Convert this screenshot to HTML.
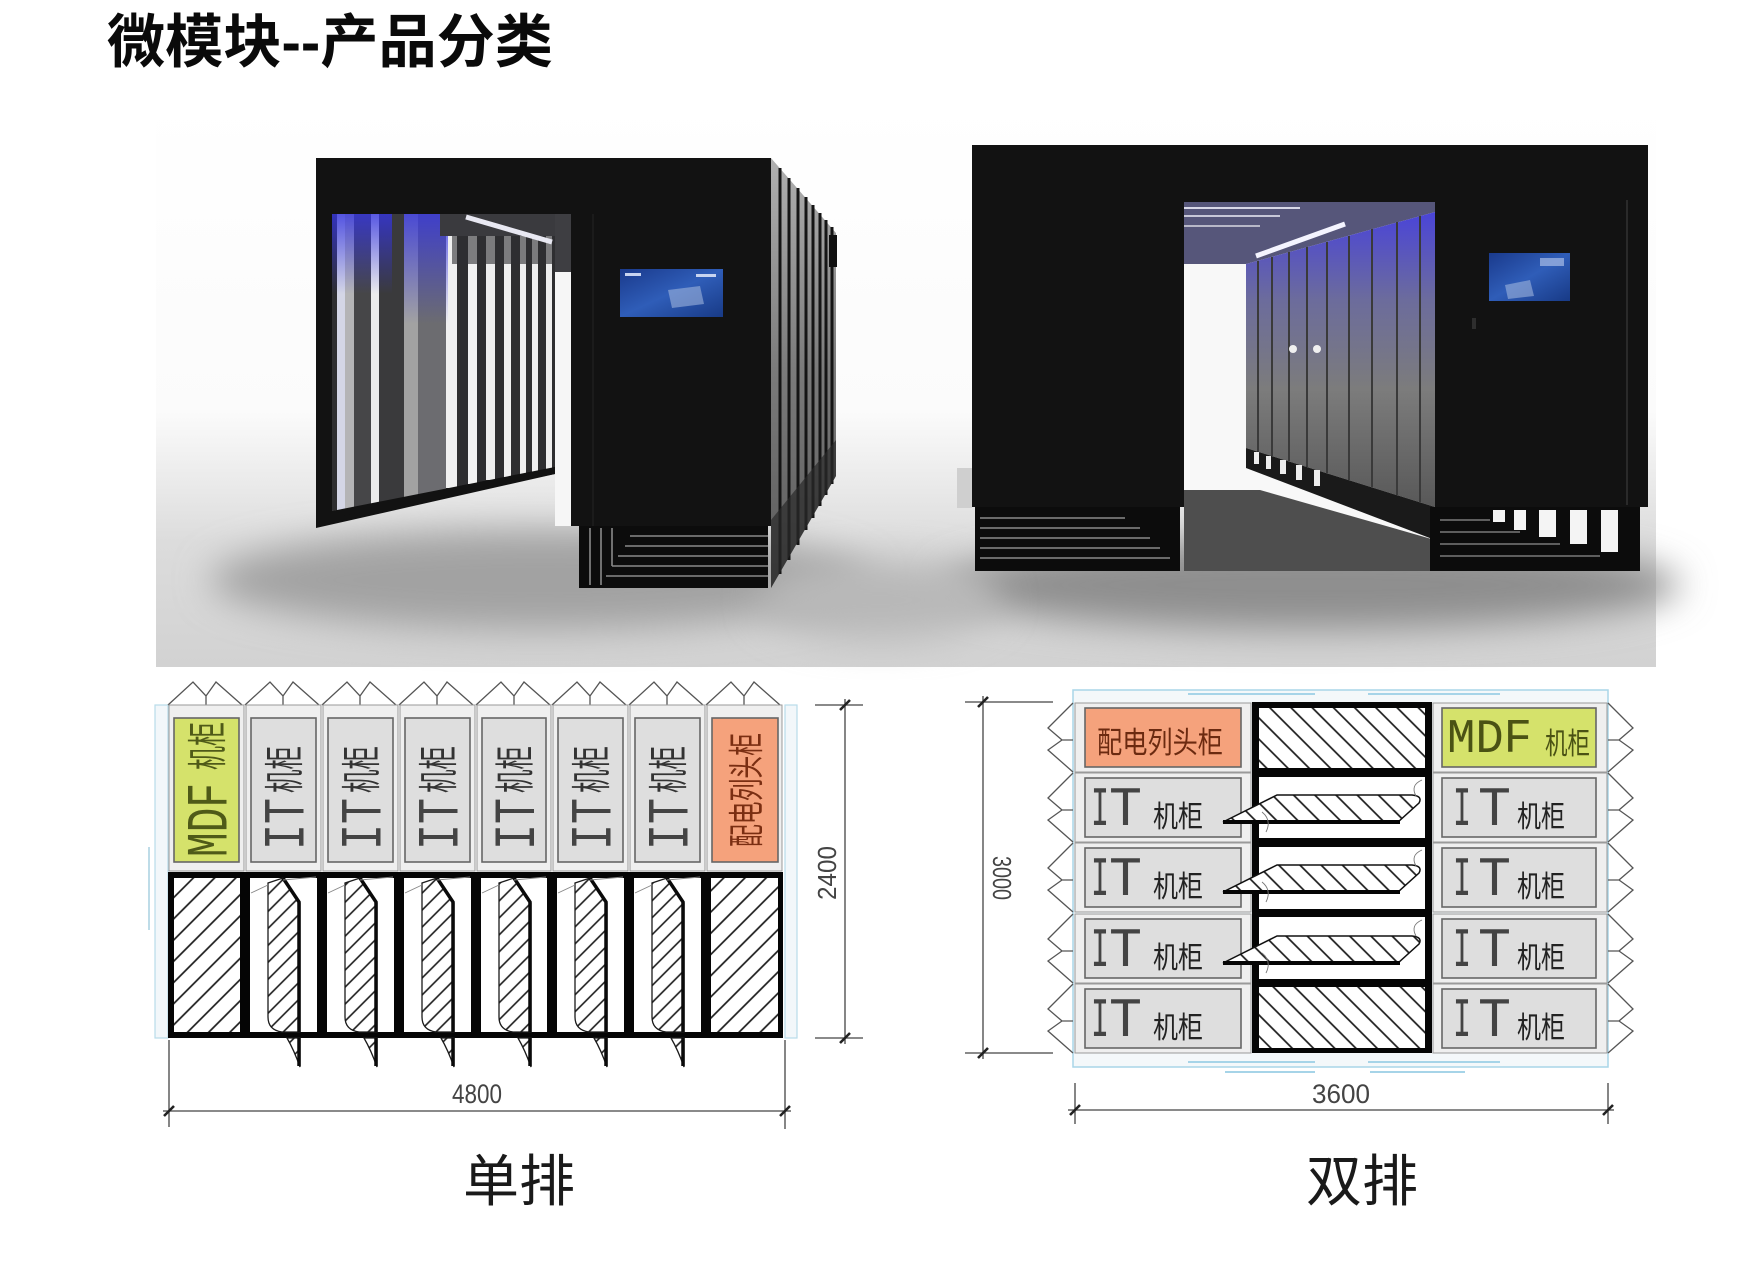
<!DOCTYPE html>
<html><head><meta charset="utf-8">
<style>
html,body{margin:0;padding:0;background:#fff;width:1746px;height:1280px;overflow:hidden}
svg{display:block}
.cjk{font-family:"Liberation Sans","Noto Sans CJK SC",sans-serif}
.mono{font-family:"Liberation Mono",monospace}
</style></head>
<body>
<svg width="1746" height="1280" viewBox="0 0 1746 1280" xmlns="http://www.w3.org/2000/svg">
<defs>
  <linearGradient id="floor" x1="0" y1="0" x2="0" y2="1">
    <stop offset="0" stop-color="#ffffff"/>
    <stop offset="0.55" stop-color="#fbfbfb"/>
    <stop offset="0.78" stop-color="#dcdcdc"/>
    <stop offset="1" stop-color="#d2d2d2"/>
  </linearGradient>
  <filter id="blur" x="-20%" y="-50%" width="140%" height="200%"><feGaussianBlur stdDeviation="18"/></filter>
  <linearGradient id="blueGlow" x1="0" y1="0" x2="0" y2="1">
    <stop offset="0" stop-color="#3434e0" stop-opacity="0.8"/>
    <stop offset="1" stop-color="#3434e0" stop-opacity="0"/>
  </linearGradient>
  <linearGradient id="screen" x1="0" y1="0" x2="1" y2="1">
    <stop offset="0" stop-color="#1a3a8c"/>
    <stop offset="0.5" stop-color="#2f5db8"/>
    <stop offset="1" stop-color="#183a86"/>
  </linearGradient>
  <linearGradient id="cabs" x1="0" y1="0" x2="0" y2="1">
    <stop offset="0" stop-color="#4a44d8"/>
    <stop offset="0.3" stop-color="#6c6c9c"/>
    <stop offset="0.6" stop-color="#7c7c7c"/>
    <stop offset="1" stop-color="#585858"/>
  </linearGradient>
  <linearGradient id="side" x1="0" y1="0" x2="0" y2="1">
    <stop offset="0" stop-color="#b0b0b0"/>
    <stop offset="0.5" stop-color="#7a7a7a"/>
    <stop offset="1" stop-color="#5a5a5a"/>
  </linearGradient>
  <pattern id="hA" patternUnits="userSpaceOnUse" width="15" height="15" patternTransform="rotate(45)">
    <rect width="15" height="15" fill="#fff"/>
    <line x1="7.5" y1="0" x2="7.5" y2="15" stroke="#1a1a1a" stroke-width="1.7"/>
  </pattern>
  <pattern id="hD" patternUnits="userSpaceOnUse" width="12" height="12" patternTransform="rotate(45)">
    <rect width="12" height="12" fill="#fff"/>
    <line x1="6" y1="0" x2="6" y2="12" stroke="#1a1a1a" stroke-width="1.6"/>
  </pattern>
  <pattern id="hB" patternUnits="userSpaceOnUse" width="15" height="15" patternTransform="rotate(-45)">
    <rect width="15" height="15" fill="#fff"/>
    <line x1="7.5" y1="0" x2="7.5" y2="15" stroke="#1a1a1a" stroke-width="1.7"/>
  </pattern>
</defs>

<!-- Title -->
<text x="107" y="62" class="cjk" font-size="58" font-weight="bold" fill="#0a0a0a" textLength="446" lengthAdjust="spacingAndGlyphs">微模块--产品分类</text>

<!-- ================= RENDER BACKGROUND ================= -->
<rect x="156" y="100" width="1500" height="567" fill="url(#floor)"/>
<ellipse cx="540" cy="580" rx="330" ry="50" fill="#a2a2a2" filter="url(#blur)"/>
<ellipse cx="1310" cy="585" rx="370" ry="45" fill="#8e8e8e" filter="url(#blur)"/>
<ellipse cx="880" cy="600" rx="120" ry="40" fill="#b8b8b8" filter="url(#blur)"/>

<!-- ================= LEFT RENDER ================= -->
<polygon points="771,158 836,233 836,476 771,588" fill="url(#side)"/>
<g stroke="#151515" stroke-width="3">
  <line x1="780" y1="168" x2="780" y2="574"/>
  <line x1="789" y1="178" x2="789" y2="560"/>
  <line x1="798" y1="188" x2="798" y2="545"/>
  <line x1="806" y1="197" x2="806" y2="530"/>
  <line x1="813" y1="205" x2="813" y2="518"/>
  <line x1="820" y1="213" x2="820" y2="506"/>
  <line x1="826" y1="220" x2="826" y2="495"/>
  <line x1="832" y1="227" x2="832" y2="484"/>
</g>
<polygon points="771,520 836,440 836,476 771,588" fill="#2a2a2a" opacity="0.7"/>
<rect x="829" y="235" width="8" height="32" fill="#111"/>

<rect x="316" y="158" width="455" height="56" fill="#121212"/>
<rect x="571" y="158" width="200" height="368" fill="#121212"/>
<polygon points="316,158 332,158 332,511 555,466 555,474 316,528" fill="#121212"/>
<polygon points="332,214 555,214 555,467 332,511" fill="#2e2e30"/>
<g>
  <rect x="337" y="214" width="8" height="297" fill="#d4d6e6"/>
  <rect x="345" y="214" width="9" height="296" fill="#b4b4b6"/>
  <rect x="354" y="214" width="17" height="293" fill="#464648"/>
  <rect x="371" y="214" width="8" height="292" fill="#ececec"/>
  <rect x="379" y="214" width="25" height="288" fill="#3a3a3c"/>
  <rect x="404" y="214" width="14" height="285" fill="#a2a2a2"/>
  <rect x="418" y="214" width="28" height="280" fill="#6c6c70"/>
  <rect x="446" y="214" width="11" height="274" fill="#f0f0f0"/>
  <rect x="468" y="214" width="9" height="270" fill="#f2f2f2"/>
  <rect x="486" y="214" width="9" height="266" fill="#eeeeee"/>
  <rect x="504" y="214" width="7" height="263" fill="#f0f0f0"/>
  <rect x="520" y="214" width="6" height="260" fill="#eeeeee"/>
  <rect x="532" y="214" width="6" height="258" fill="#eeeeee"/>
  <rect x="546" y="214" width="6" height="256" fill="#eeeeee"/>
</g>
<polygon points="332,511 555,467 555,474 332,518" fill="#121212"/>
<rect x="332" y="214" width="60" height="80" fill="url(#blueGlow)"/>
<rect x="404" y="214" width="44" height="110" fill="url(#blueGlow)"/>
<rect x="440" y="214" width="131" height="22" fill="#3a3a3e"/>
<rect x="452" y="236" width="119" height="28" fill="#2e2e32" opacity="0.6"/>
<line x1="466" y1="217" x2="552" y2="242" stroke="#e8e8f2" stroke-width="5"/>
<rect x="555" y="214" width="16" height="58" fill="#3e3e42"/>
<rect x="555" y="272" width="16" height="254" fill="#f6f6f6"/>
<line x1="593" y1="214" x2="593" y2="526" stroke="#1e1e1e" stroke-width="1.5"/>
<rect x="620" y="269" width="103" height="48" fill="url(#screen)"/>
<rect x="625" y="273" width="16" height="3" fill="#c8d4f0"/>
<rect x="696" y="274" width="20" height="3" fill="#c8d4f0"/>
<polygon points="668,290 700,286 704,304 672,308" fill="#9fb4dc" opacity="0.6"/>
<rect x="579" y="526" width="189" height="62" fill="#0c0c0c"/>
<g stroke="#8a8a8a" stroke-width="1.6">
  <line x1="630" y1="536" x2="768" y2="536"/>
  <line x1="625" y1="546" x2="768" y2="546"/>
  <line x1="618" y1="556" x2="768" y2="556"/>
  <line x1="612" y1="566" x2="768" y2="566"/>
  <line x1="606" y1="576" x2="768" y2="576"/>
  <line x1="590" y1="528" x2="590" y2="585"/>
  <line x1="601" y1="528" x2="601" y2="585"/>
  <line x1="612" y1="528" x2="612" y2="566"/>
</g>

<!-- ================= RIGHT RENDER ================= -->
<rect x="957" y="468" width="15" height="40" fill="#cfcfcf"/>
<rect x="1184" y="202" width="251" height="369" fill="#f8f8f8"/>
<polygon points="1184,490 1260,490 1435,540 1435,571 1184,571" fill="#4e4e4e"/>
<polygon points="1184,202 1435,202 1435,212 1246,264 1184,264" fill="#56567a"/>
<line x1="1184" y1="208" x2="1300" y2="208" stroke="#d8d8e8" stroke-width="2"/>
<line x1="1184" y1="216" x2="1280" y2="216" stroke="#c8c8d8" stroke-width="2"/>
<line x1="1184" y1="226" x2="1260" y2="226" stroke="#b8b8c8" stroke-width="2"/>
<line x1="1256" y1="256" x2="1345" y2="224" stroke="#f4f4ff" stroke-width="5"/>
<polygon points="1246,264 1435,212 1435,507 1246,448" fill="url(#cabs)"/>
<g stroke="#3a3a3a" stroke-width="2">
  <line x1="1258" y1="261" x2="1258" y2="452"/>
  <line x1="1272" y1="257" x2="1272" y2="456"/>
  <line x1="1289" y1="252" x2="1289" y2="461"/>
  <line x1="1307" y1="247" x2="1307" y2="467"/>
  <line x1="1327" y1="242" x2="1327" y2="473"/>
  <line x1="1349" y1="236" x2="1349" y2="480"/>
  <line x1="1372" y1="229" x2="1372" y2="487"/>
  <line x1="1397" y1="222" x2="1397" y2="495"/>
  <line x1="1420" y1="216" x2="1420" y2="502"/>
</g>
<circle cx="1293" cy="349" r="4" fill="#f0f0f0"/>
<circle cx="1317" cy="349" r="4" fill="#f0f0f0"/>
<polygon points="1246,448 1435,507 1435,540 1246,468" fill="#1a1a1a"/>
<g fill="#eeeeee">
  <rect x="1254" y="452" width="5" height="12"/>
  <rect x="1266" y="456" width="5" height="13"/>
  <rect x="1280" y="460" width="6" height="14"/>
  <rect x="1296" y="465" width="6" height="15"/>
  <rect x="1314" y="470" width="6" height="16"/>
</g>
<rect x="972" y="145" width="676" height="57" fill="#121212"/>
<rect x="972" y="145" width="212" height="362" fill="#121212"/>
<rect x="1435" y="145" width="213" height="362" fill="#121212"/>
<line x1="1627" y1="200" x2="1627" y2="505" stroke="#333" stroke-width="1.5"/>
<rect x="1472" y="318" width="4" height="11" fill="#2e2e2e"/>
<rect x="1489" y="253" width="81" height="48" fill="url(#screen)"/>
<rect x="1540" y="258" width="24" height="8" fill="#a8bce6" opacity="0.7"/>
<polygon points="1505,285 1530,280 1534,296 1508,299" fill="#9fb4dc" opacity="0.6"/>
<rect x="975" y="507" width="205" height="64" fill="#0c0c0c"/>
<g stroke="#8a8a8a" stroke-width="1.6">
  <line x1="980" y1="518" x2="1125" y2="518"/>
  <line x1="980" y1="528" x2="1140" y2="528"/>
  <line x1="980" y1="538" x2="1150" y2="538"/>
  <line x1="980" y1="548" x2="1160" y2="548"/>
  <line x1="980" y1="558" x2="1170" y2="558"/>
</g>
<rect x="1430" y="507" width="210" height="64" fill="#0c0c0c"/>
<g stroke="#7a7a7a" stroke-width="1.6">
  <line x1="1440" y1="520" x2="1490" y2="520"/>
  <line x1="1440" y1="532" x2="1520" y2="532"/>
  <line x1="1440" y1="544" x2="1560" y2="544"/>
  <line x1="1440" y1="556" x2="1600" y2="556"/>
</g>
<g fill="#f4f4f4">
  <rect x="1493" y="510" width="12" height="12"/>
  <rect x="1514" y="510" width="12" height="20"/>
  <rect x="1539" y="510" width="17" height="27"/>
  <rect x="1570" y="510" width="17" height="34"/>
  <rect x="1601" y="510" width="17" height="42"/>
</g>

<!-- ================= SINGLE ROW DIAGRAM ================= -->
<rect x="155" y="705" width="13" height="333" fill="#f2f7fa" stroke="#b8dcea" stroke-width="1.2"/>
<line x1="149" y1="847" x2="149" y2="930" stroke="#a8d0e0" stroke-width="1.5"/>
<rect x="785" y="705" width="12" height="333" fill="#f2f7fa" stroke="#b8dcea" stroke-width="1.2"/>
<g fill="none" stroke="#555" stroke-width="1.3">
  <path d="M168,705 L193,682 L206,696 L216,682 L242,705 M206,696 L206,705"/>
  <path d="M245,705 L270,682 L283,696 L293,682 L319,705 M283,696 L283,705"/>
  <path d="M322,705 L347,682 L360,696 L370,682 L396,705 M360,696 L360,705"/>
  <path d="M399,705 L424,682 L437,696 L447,682 L473,705 M437,696 L437,705"/>
  <path d="M476,705 L501,682 L514,696 L524,682 L550,705 M514,696 L514,705"/>
  <path d="M552,705 L577,682 L590,696 L600,682 L626,705 M590,696 L590,705"/>
  <path d="M629,705 L654,682 L667,696 L677,682 L703,705 M667,696 L667,705"/>
  <path d="M706,705 L731,682 L744,696 L754,682 L780,705 M744,696 L744,705"/>
</g>
<g stroke="#9a9a9a" stroke-width="1" fill="#efefef">
  <rect x="169" y="705" width="75" height="166"/>
  <rect x="246" y="705" width="75" height="166"/>
  <rect x="323" y="705" width="75" height="166"/>
  <rect x="400" y="705" width="75" height="166"/>
  <rect x="477" y="705" width="74" height="166"/>
  <rect x="553" y="705" width="75" height="166"/>
  <rect x="630" y="705" width="75" height="166"/>
  <rect x="707" y="705" width="75" height="166"/>
</g>
<g stroke="#666" stroke-width="1.6">
  <rect x="174" y="718" width="65" height="144" fill="#d5e26b"/>
  <rect x="251" y="718" width="65" height="144" fill="#dedede"/>
  <rect x="328" y="718" width="65" height="144" fill="#dedede"/>
  <rect x="405" y="718" width="65" height="144" fill="#dedede"/>
  <rect x="482" y="718" width="64" height="144" fill="#dedede"/>
  <rect x="558" y="718" width="65" height="144" fill="#dedede"/>
  <rect x="635" y="718" width="65" height="144" fill="#dedede"/>
  <rect x="712" y="718" width="66" height="144" fill="#f5a27c"/>
</g>
<g transform="translate(206.5,857) rotate(-90)">
  <text x="0" y="20" class="mono" font-size="58" fill="#4f5a18" textLength="74" lengthAdjust="spacingAndGlyphs">MDF</text>
  <text x="87" y="15" class="cjk" font-size="40" fill="#4f5a18" textLength="48" lengthAdjust="spacingAndGlyphs">机柜</text>
</g>
<g transform="translate(283.5,850) rotate(-90)">
  <text x="0" y="20" class="mono" font-size="58" fill="#444" textLength="52" lengthAdjust="spacingAndGlyphs">IT</text>
  <text x="57" y="15" class="cjk" font-size="40" fill="#333" textLength="47" lengthAdjust="spacingAndGlyphs">机柜</text>
</g>
<g transform="translate(360.5,850) rotate(-90)">
  <text x="0" y="20" class="mono" font-size="58" fill="#444" textLength="52" lengthAdjust="spacingAndGlyphs">IT</text>
  <text x="57" y="15" class="cjk" font-size="40" fill="#333" textLength="47" lengthAdjust="spacingAndGlyphs">机柜</text>
</g>
<g transform="translate(437.5,850) rotate(-90)">
  <text x="0" y="20" class="mono" font-size="58" fill="#444" textLength="52" lengthAdjust="spacingAndGlyphs">IT</text>
  <text x="57" y="15" class="cjk" font-size="40" fill="#333" textLength="47" lengthAdjust="spacingAndGlyphs">机柜</text>
</g>
<g transform="translate(514,850) rotate(-90)">
  <text x="0" y="20" class="mono" font-size="58" fill="#444" textLength="52" lengthAdjust="spacingAndGlyphs">IT</text>
  <text x="57" y="15" class="cjk" font-size="40" fill="#333" textLength="47" lengthAdjust="spacingAndGlyphs">机柜</text>
</g>
<g transform="translate(590.5,850) rotate(-90)">
  <text x="0" y="20" class="mono" font-size="58" fill="#444" textLength="52" lengthAdjust="spacingAndGlyphs">IT</text>
  <text x="57" y="15" class="cjk" font-size="40" fill="#333" textLength="47" lengthAdjust="spacingAndGlyphs">机柜</text>
</g>
<g transform="translate(667.5,850) rotate(-90)">
  <text x="0" y="20" class="mono" font-size="58" fill="#444" textLength="52" lengthAdjust="spacingAndGlyphs">IT</text>
  <text x="57" y="15" class="cjk" font-size="40" fill="#333" textLength="47" lengthAdjust="spacingAndGlyphs">机柜</text>
</g>
<g transform="translate(745,847) rotate(-90)">
  <text x="0" y="14" class="cjk" font-size="36" fill="#7a2e12" textLength="114" lengthAdjust="spacingAndGlyphs">配电列头柜</text>
</g>

<rect x="168" y="872" width="615" height="166" fill="#050505"/>
<rect x="174" y="878" width="66" height="154" fill="url(#hA)"/>
<rect x="250" y="878" width="67" height="154" fill="#fff"/>
<rect x="327" y="878" width="67" height="154" fill="#fff"/>
<rect x="404" y="878" width="67" height="154" fill="#fff"/>
<rect x="481" y="878" width="66" height="154" fill="#fff"/>
<rect x="557" y="878" width="67" height="154" fill="#fff"/>
<rect x="634" y="878" width="67" height="154" fill="#fff"/>
<rect x="711" y="878" width="67" height="154" fill="url(#hA)"/>
<g fill="url(#hD)" stroke="#1a1a1a" stroke-width="1.3">
  <path d="M268,883 L283,878 L300,903 L300,1032 L282,1032 Q268,1030 268,1017 Z"/>
  <path d="M345,883 L360,878 L377,903 L377,1032 L359,1032 Q345,1030 345,1017 Z"/>
  <path d="M422,883 L437,878 L454,903 L454,1032 L436,1032 Q422,1030 422,1017 Z"/>
  <path d="M499,883 L514,878 L531,903 L531,1032 L513,1032 Q499,1030 499,1017 Z"/>
  <path d="M575,883 L590,878 L607,903 L607,1032 L589,1032 Q575,1030 575,1017 Z"/>
  <path d="M652,883 L667,878 L684,903 L684,1032 L666,1032 Q652,1030 652,1017 Z"/>
  <path d="M287,1038 L300,1038 L300,1067 Q294,1050 287,1038 Z"/>
  <path d="M364,1038 L377,1038 L377,1067 Q371,1050 364,1038 Z"/>
  <path d="M441,1038 L454,1038 L454,1067 Q448,1050 441,1038 Z"/>
  <path d="M518,1038 L531,1038 L531,1067 Q525,1050 518,1038 Z"/>
  <path d="M594,1038 L607,1038 L607,1067 Q601,1050 594,1038 Z"/>
  <path d="M671,1038 L684,1038 L684,1067 Q678,1050 671,1038 Z"/>
</g>
<g stroke="#0a0a0a" stroke-width="3.5" fill="none">
  <path d="M283,878 L299,902 L299,1032 M299,1038 L299,1066"/>
  <path d="M360,878 L376,902 L376,1032 M376,1038 L376,1066"/>
  <path d="M437,878 L453,902 L453,1032 M453,1038 L453,1066"/>
  <path d="M514,878 L530,902 L530,1032 M530,1038 L530,1066"/>
  <path d="M590,878 L606,902 L606,1032 M606,1038 L606,1066"/>
  <path d="M667,878 L683,902 L683,1032 M683,1038 L683,1066"/>
</g>
<g stroke="#888" stroke-width="0.9" fill="none">
  <path d="M251,893 L268,885 M283,880 L316,877"/>
  <path d="M328,893 L345,885 M360,880 L393,877"/>
  <path d="M405,893 L422,885 M437,880 L470,877"/>
  <path d="M482,893 L499,885 M514,880 L546,877"/>
  <path d="M558,893 L575,885 M590,880 L623,877"/>
  <path d="M635,893 L652,885 M667,880 L700,877"/>
</g>

<g stroke="#444" stroke-width="1.3" fill="none">
  <line x1="845" y1="699" x2="845" y2="1044"/>
  <line x1="815" y1="705" x2="863" y2="705"/>
  <line x1="815" y1="1038" x2="863" y2="1038"/>
  <line x1="163" y1="1111" x2="791" y2="1111"/>
  <line x1="169" y1="1040" x2="169" y2="1127"/>
  <line x1="785" y1="1040" x2="785" y2="1129"/>
</g>
<g stroke="#222" stroke-width="2.6">
  <line x1="840" y1="710" x2="850" y2="700"/>
  <line x1="840" y1="1043" x2="850" y2="1033"/>
  <line x1="164" y1="1116" x2="174" y2="1106"/>
  <line x1="780" y1="1116" x2="790" y2="1106"/>
</g>
<g transform="translate(827,873) rotate(-90)">
  <text x="0" y="9" text-anchor="middle" font-family="Liberation Sans, sans-serif" font-size="26" fill="#444" textLength="54" lengthAdjust="spacingAndGlyphs">2400</text>
</g>
<text x="477" y="1103" text-anchor="middle" font-family="Liberation Sans, sans-serif" font-size="27" fill="#444" textLength="50" lengthAdjust="spacingAndGlyphs">4800</text>
<text x="519" y="1201" text-anchor="middle" class="cjk" font-size="56" fill="#1a1a1a">单排</text>

<!-- ================= DOUBLE ROW DIAGRAM ================= -->
<rect x="1073" y="690" width="535" height="377" fill="#f4f8fa" stroke="#a9d6e8" stroke-width="1.5"/>
<g stroke="#a6d4e8" stroke-width="2">
  <line x1="1188" y1="694" x2="1315" y2="694"/>
  <line x1="1368" y1="694" x2="1500" y2="694"/>
  <line x1="1188" y1="1062" x2="1315" y2="1062"/>
  <line x1="1368" y1="1062" x2="1500" y2="1062"/>
  <line x1="1225" y1="1072" x2="1315" y2="1072"/>
  <line x1="1370" y1="1072" x2="1465" y2="1072"/>
</g>
<g fill="none" stroke="#555" stroke-width="1.3">
  <path d="M1073,703 L1048,728 L1062,740 L1048,750 L1073,772 M1062,740 L1073,740"/>
  <path d="M1073,773 L1048,798 L1062,810 L1048,820 L1073,842 M1062,810 L1073,810"/>
  <path d="M1073,843 L1048,868 L1062,880 L1048,890 L1073,912 M1062,880 L1073,880"/>
  <path d="M1073,914 L1048,939 L1062,951 L1048,961 L1073,983 M1062,951 L1073,951"/>
  <path d="M1073,984 L1048,1009 L1062,1021 L1048,1031 L1073,1053 M1062,1021 L1073,1021"/>
  <path d="M1608,703 L1633,728 L1619,740 L1633,750 L1608,772 M1619,740 L1608,740"/>
  <path d="M1608,773 L1633,798 L1619,810 L1633,820 L1608,842 M1619,810 L1608,810"/>
  <path d="M1608,843 L1633,868 L1619,880 L1633,890 L1608,912 M1619,880 L1608,880"/>
  <path d="M1608,914 L1633,939 L1619,951 L1633,961 L1608,983 M1619,951 L1608,951"/>
  <path d="M1608,984 L1633,1009 L1619,1021 L1633,1031 L1608,1053 M1619,1021 L1608,1021"/>
</g>
<g stroke="#9a9a9a" stroke-width="1" fill="#efefef">
  <rect x="1075" y="703" width="176" height="69"/>
  <rect x="1075" y="773" width="176" height="69"/>
  <rect x="1075" y="843" width="176" height="69"/>
  <rect x="1075" y="914" width="176" height="69"/>
  <rect x="1075" y="984" width="176" height="69"/>
  <rect x="1433" y="703" width="174" height="69"/>
  <rect x="1433" y="773" width="174" height="69"/>
  <rect x="1433" y="843" width="174" height="69"/>
  <rect x="1433" y="914" width="174" height="69"/>
  <rect x="1433" y="984" width="174" height="69"/>
</g>
<g stroke="#666" stroke-width="1.6">
  <rect x="1085" y="708" width="156" height="59" fill="#f5a27c"/>
  <rect x="1085" y="778" width="156" height="59" fill="#dedede"/>
  <rect x="1085" y="848" width="156" height="59" fill="#dedede"/>
  <rect x="1085" y="919" width="156" height="59" fill="#dedede"/>
  <rect x="1085" y="989" width="156" height="59" fill="#dedede"/>
  <rect x="1442" y="708" width="154" height="59" fill="#d5e26b"/>
  <rect x="1442" y="778" width="154" height="59" fill="#dedede"/>
  <rect x="1442" y="848" width="154" height="59" fill="#dedede"/>
  <rect x="1442" y="919" width="154" height="59" fill="#dedede"/>
  <rect x="1442" y="989" width="154" height="59" fill="#dedede"/>
</g>
<text x="1097" y="753" class="cjk" font-size="30" fill="#6b2a10" textLength="126" lengthAdjust="spacingAndGlyphs">配电列头柜</text>
<g class="mono" font-size="56" fill="#444">
  <text x="1091" y="825" textLength="18" lengthAdjust="spacingAndGlyphs">I</text><text x="1109" y="825" textLength="33" lengthAdjust="spacingAndGlyphs">T</text>
  <text x="1091" y="895" textLength="18" lengthAdjust="spacingAndGlyphs">I</text><text x="1109" y="895" textLength="33" lengthAdjust="spacingAndGlyphs">T</text>
  <text x="1091" y="966" textLength="18" lengthAdjust="spacingAndGlyphs">I</text><text x="1109" y="966" textLength="33" lengthAdjust="spacingAndGlyphs">T</text>
  <text x="1091" y="1036" textLength="18" lengthAdjust="spacingAndGlyphs">I</text><text x="1109" y="1036" textLength="33" lengthAdjust="spacingAndGlyphs">T</text>
  <text x="1453" y="825" textLength="18" lengthAdjust="spacingAndGlyphs">I</text><text x="1478" y="825" textLength="33" lengthAdjust="spacingAndGlyphs">T</text>
  <text x="1453" y="895" textLength="18" lengthAdjust="spacingAndGlyphs">I</text><text x="1478" y="895" textLength="33" lengthAdjust="spacingAndGlyphs">T</text>
  <text x="1453" y="966" textLength="18" lengthAdjust="spacingAndGlyphs">I</text><text x="1478" y="966" textLength="33" lengthAdjust="spacingAndGlyphs">T</text>
  <text x="1453" y="1036" textLength="18" lengthAdjust="spacingAndGlyphs">I</text><text x="1478" y="1036" textLength="33" lengthAdjust="spacingAndGlyphs">T</text>
</g>
<g class="cjk" font-size="30" fill="#222">
  <text x="1153" y="827" textLength="50" lengthAdjust="spacingAndGlyphs">机柜</text>
  <text x="1153" y="897" textLength="50" lengthAdjust="spacingAndGlyphs">机柜</text>
  <text x="1153" y="968" textLength="50" lengthAdjust="spacingAndGlyphs">机柜</text>
  <text x="1153" y="1038" textLength="50" lengthAdjust="spacingAndGlyphs">机柜</text>
  <text x="1517" y="827" textLength="48" lengthAdjust="spacingAndGlyphs">机柜</text>
  <text x="1517" y="897" textLength="48" lengthAdjust="spacingAndGlyphs">机柜</text>
  <text x="1517" y="968" textLength="48" lengthAdjust="spacingAndGlyphs">机柜</text>
  <text x="1517" y="1038" textLength="48" lengthAdjust="spacingAndGlyphs">机柜</text>
</g>
<text x="1447" y="752" class="mono" font-size="48" fill="#4a5214" textLength="85" lengthAdjust="spacingAndGlyphs">MDF</text>
<text x="1545" y="754" class="cjk" font-size="30" fill="#4a5214" textLength="45" lengthAdjust="spacingAndGlyphs">机柜</text>

<rect x="1252" y="702" width="180" height="351" fill="#050505"/>
<rect x="1259" y="708" width="166" height="60" fill="url(#hB)"/>
<rect x="1259" y="777" width="166" height="61" fill="#fff"/>
<rect x="1259" y="847" width="166" height="62" fill="#fff"/>
<rect x="1259" y="917" width="166" height="62" fill="#fff"/>
<rect x="1259" y="987" width="166" height="61" fill="url(#hB)"/>
<g fill="url(#hB)" stroke="#111" stroke-width="1.5">
  <path d="M1223,822 L1277,795 L1412,795 Q1423,796 1419,803 L1398,822 Z"/>
  <path d="M1223,892 L1277,865 L1412,865 Q1423,866 1419,873 L1398,892 Z"/>
  <path d="M1223,963 L1277,936 L1412,936 Q1423,937 1419,944 L1398,963 Z"/>
</g>
<g stroke="#050505" stroke-width="4">
  <line x1="1223" y1="822" x2="1400" y2="822"/>
  <line x1="1223" y1="892" x2="1400" y2="892"/>
  <line x1="1223" y1="963" x2="1400" y2="963"/>
</g>
<g stroke="#777" stroke-width="0.9" fill="none">
  <path d="M1262,812 q10,8 4,20"/>
  <path d="M1262,882 q10,8 4,20"/>
  <path d="M1262,953 q10,8 4,20"/>
  <path d="M1422,780 q-12,5 -6,16"/>
  <path d="M1422,850 q-12,5 -6,16"/>
  <path d="M1422,920 q-12,5 -6,16"/>
</g>

<g stroke="#444" stroke-width="1.3" fill="none">
  <line x1="983" y1="696" x2="983" y2="1059"/>
  <line x1="965" y1="702" x2="1053" y2="702"/>
  <line x1="965" y1="1053" x2="1053" y2="1053"/>
  <line x1="1068" y1="1110" x2="1614" y2="1110"/>
  <line x1="1075" y1="1083" x2="1075" y2="1124"/>
  <line x1="1608" y1="1083" x2="1608" y2="1124"/>
</g>
<g stroke="#222" stroke-width="2.6">
  <line x1="978" y1="707" x2="988" y2="697"/>
  <line x1="978" y1="1058" x2="988" y2="1048"/>
  <line x1="1070" y1="1115" x2="1080" y2="1105"/>
  <line x1="1603" y1="1115" x2="1613" y2="1105"/>
</g>
<g transform="translate(1002,878) rotate(90)">
  <text x="0" y="9" text-anchor="middle" font-family="Liberation Sans, sans-serif" font-size="26" fill="#444" textLength="44" lengthAdjust="spacingAndGlyphs">3000</text>
</g>
<text x="1341" y="1103" text-anchor="middle" font-family="Liberation Sans, sans-serif" font-size="27" fill="#444" textLength="58" lengthAdjust="spacingAndGlyphs">3600</text>
<text x="1362" y="1201" text-anchor="middle" class="cjk" font-size="56" fill="#1a1a1a">双排</text>
</svg>
</body></html>
